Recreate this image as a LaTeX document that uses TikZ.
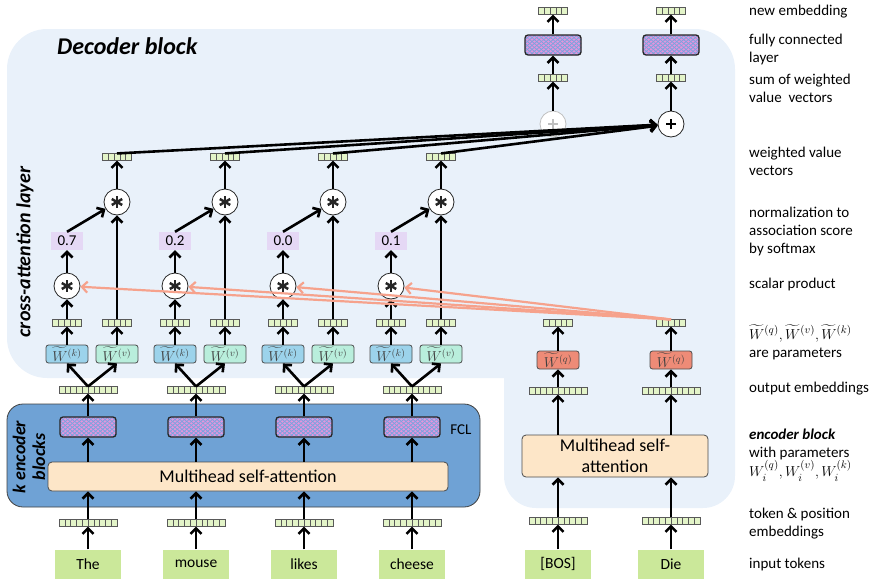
\documentclass[tikz,border=0pt]{standalone}
\usepackage{fontspec}
\setmainfont{Carlito}
\usepackage{amsmath}
\usetikzlibrary{arrows.meta,patterns.meta}
\definecolor{decbg}{HTML}{E9F1FA}
\definecolor{encbg}{HTML}{6FA2D5}
\definecolor{peach}{HTML}{FDE6C8}
\definecolor{tokc}{HTML}{CBE89A}
\definecolor{embg}{HTML}{E3F4C8}
\definecolor{wkc}{HTML}{9CD3EB}
\definecolor{wvc}{HTML}{B9EEDC}
\definecolor{wqc}{HTML}{EE8B77}
\definecolor{lav}{HTML}{E5D8F5}
\definecolor{salm}{HTML}{F6A28C}
\definecolor{fclpink}{HTML}{E595DC}
\definecolor{fclblue}{HTML}{7BA3DE}
\newcommand\labfont{\fontsize{15}{18}\selectfont}
\begin{document}
\begin{tikzpicture}[x=1pt,y=-1pt,
  arr/.style={line width=2.6pt,-{Straight Barb[length=5.5pt,width=11pt]}},
  sal/.style={line width=2.2pt,salm,-{Straight Barb[length=5.5pt,width=11pt]}},
  emb/.style={draw=black!65, fill=embg, line width=0.6pt, inner sep=0pt,
    minimum height=6.5pt, minimum width=#1*5.8pt,
    path picture={\foreach \j in {1,...,#1}{\draw[black!65, line width=0.6pt]
      ([xshift=\j*5.8pt]path picture bounding box.north west) --
      ([xshift=\j*5.8pt]path picture bounding box.south west);}}},
  tok/.style={fill=tokc, minimum width=66pt, minimum height=29pt, inner sep=0pt,
    font=\fontsize{15.5}{18}\selectfont},
  fcl/.style={draw=black!85, line width=1.3pt, rounded corners=3pt,
    minimum width=56pt, minimum height=20pt, inner sep=0pt,
    preaction={fill=fclpink},
    preaction={pattern={Lines[angle=40,distance=3pt,line width=0.8pt]}, pattern color=fclblue},
    preaction={pattern={Lines[angle=-40,distance=3pt,line width=0.8pt]}, pattern color=fclblue}},
  wbox/.style={draw=black!70, line width=0.8pt, rounded corners=2.5pt,
    minimum width=42pt, minimum height=18pt, inner sep=0pt,
    font=\fontsize{14}{14}\selectfont, text=black!75},
  score/.style={fill=lav, minimum width=32pt, minimum height=18pt, inner sep=0pt,
    font=\fontsize{15}{18}\selectfont},
  mhsa/.style={draw=black!70, fill=peach, line width=0.8pt, rounded corners=4pt,
    inner sep=0pt, font=\fontsize{18}{21}\selectfont},
  opc/.style={circle, draw=black!85, fill=white, line width=0.8pt,
    minimum size=26pt, inner sep=0pt},
  star/.style={path picture={\foreach \a in {90,30,150}{\draw[line width=2.5pt]
      ([shift={(\a:6pt)}]path picture bounding box.center) --
      ([shift={(\a+180:6pt)}]path picture bounding box.center);}}},
  plussign/.style={path picture={\draw[line width=2.4pt,#1]
      ([xshift=-5pt]path picture bounding box.center) --
      ([xshift=5pt]path picture bounding box.center)
      ([yshift=-5pt]path picture bounding box.center) --
      ([yshift=5pt]path picture bounding box.center);}},
  lab/.style={anchor=west, align=left, inner sep=0pt, font=\labfont}
]
\useasboundingbox (0,0) rectangle (876,582);
% backgrounds
\fill[decbg, rounded corners=40pt] (7,29) rectangle (735,378);
\fill[decbg, rounded corners=32pt] (504,300) rectangle (735,508);
\draw[black!75, line width=0.8pt, fill=encbg, rounded corners=16pt] (7,404) rectangle (480,507);

% titles
\node[anchor=west, inner sep=0pt, font=\fontsize{24}{28}\bfseries\itshape\selectfont] (dectitle) at (57,46) {Decoder block};
\node[rotate=90, inner sep=0pt, font=\fontsize{20}{24}\bfseries\itshape\selectfont] (catitle) at (25,252) {cross-attention layer};
\node[rotate=90, inner sep=0pt, align=center, font=\fontsize{18}{20}\bfseries\itshape\selectfont] (enctitle) at (29,457) {k encoder\\blocks};
\node[inner sep=0pt, font=\fontsize{15}{18}\selectfont] (fcllab) at (461,430) {FCL};

% encoder multihead
\node[mhsa, minimum width=400pt, minimum height=29pt] (m) at (248,476.5) {Multihead self-attention};

% encoder columns
\foreach \i/\c/\w/\s in {1/88/The/0.7, 2/196/mouse/0.2, 3/304/likes/0.0, 4/412/cheese/0.1}{
  \node[tok] (t\i) at (\c,564) {\w};
  \node[emb=10] (te\i) at (\c,523) {};
  \node[fcl] (f\i) at (\c,427) {};
  \node[emb=10] (oe\i) at (\c,390) {};
  \node[wbox, fill=wkc] (wk\i) at (\c-21,354) {$\widetilde{W}^{(k)}$};
  \node[wbox, fill=wvc] (wv\i) at (\c+29,354) {$\widetilde{W}^{(v)}$};
  \node[emb=5] (ke\i) at (\c-21,323) {};
  \node[emb=5] (ve\i) at (\c+29,323) {};
  \node[opc, star] (s\i) at (\c-21,286) {};
  \node[score] (sc\i) at (\c-21,241) {\s};
  \node[opc, star] (u\i) at (\c+29,202) {};
  \node[emb=5] (wo\i) at (\c+29,157) {};
  \draw[arr] (t\i.north) -- (te\i.south);
  \draw[arr] (te\i.north) -- (te\i.north |- m.south);
  \draw[arr] (f\i.south |- m.north) -- (f\i.south);
  \draw[arr] (f\i.north) -- (oe\i.south);
  \draw[arr] (oe\i.north) -- (wk\i.south);
  \draw[arr] (oe\i.north) -- (wv\i.south);
  \draw[arr] (wk\i.north) -- (ke\i.south);
  \draw[arr] (wv\i.north) -- (ve\i.south);
  \draw[arr] (ke\i.north) -- (s\i.south);
  \draw[arr] (s\i.north) -- (sc\i.south);
  \draw[arr] (sc\i.north) -- (u\i);
  \draw[arr] (ve\i.north) -- (u\i.south);
  \draw[arr] (u\i.north) -- (wo\i.south);
}

% decoder lower
\node[mhsa, minimum width=186pt, minimum height=42pt, align=center] (dm) at (615,456) {Multihead self-\\attention};
\foreach \i/\c/\w in {1/558/{[BOS]}, 2/671/Die}{
  \node[tok] (dt\i) at (\c,564) {\w};
  \node[emb=10] (de\i) at (\c,521) {};
  \node[emb=10] (doe\i) at (\c,391) {};
  \node[wbox, fill=wqc] (wq\i) at (\c,360) {$\widetilde{W}^{(q)}$};
  \node[emb=5] (qe\i) at (\c,323) {};
  \draw[arr] (dt\i.north) -- (de\i.south);
  \draw[arr] (de\i.north) -- (de\i.north |- dm.south);
  \draw[arr] (doe\i.south |- dm.north) -- (doe\i.south);
  \draw[arr] (doe\i.north) -- (wq\i.south);
  \draw[arr] (wq\i.north) -- (qe\i.south);
}

% decoder upper
\node[opc, draw=black!25, plussign=black!25] (p1) at (553,124) {};
\node[opc, plussign=black] (p2) at (671,124) {};
\foreach \i/\c in {1/553, 2/671}{
  \node[emb=5] (se\i) at (\c,78) {};
  \node[fcl] (df\i) at (\c,45) {};
  \node[emb=5] (ne\i) at (\c,11) {};
  \draw[arr] (p\i.north) -- (se\i.south);
  \draw[arr] (se\i.north) -- (df\i.south);
  \draw[arr] (df\i.north) -- (ne\i.south);
}

% query lines and weighted sums
\foreach \i in {1,...,4}{
  \draw[sal] (qe2.north) -- (s\i);
  \draw[arr] (wo\i.north) -- (p2);
}

% right labels
\node[lab] (l1) at (749,12) {new embedding};
\node[lab] (l2) at (749,49) {fully connected\\layer};
\node[lab] (l3) at (749,88) {sum of weighted\\value~~vectors};
\node[lab] (l4) at (749,161) {weighted value\\vectors};
\node[lab] (l5) at (749,231) {normalization to\\association score\\by softmax};
\node[lab] (l6) at (749,284) {scalar product};
\node[lab] (l7) at (749,342) {$\widetilde{W}^{(q)},\widetilde{W}^{(v)},\widetilde{W}^{(k)}$\\are parameters};
\node[lab] (l8) at (749,389) {output embeddings};
\node[lab] (l9) at (749,455) {{\bfseries\itshape encoder block}\\with parameters\\$W_i^{(q)},W_i^{(v)},W_i^{(k)}$};
\node[lab] (l10) at (749,524) {token \& position\\embeddings};
\node[lab] (l11) at (749,564) {input tokens};
\end{tikzpicture}
\end{document}
